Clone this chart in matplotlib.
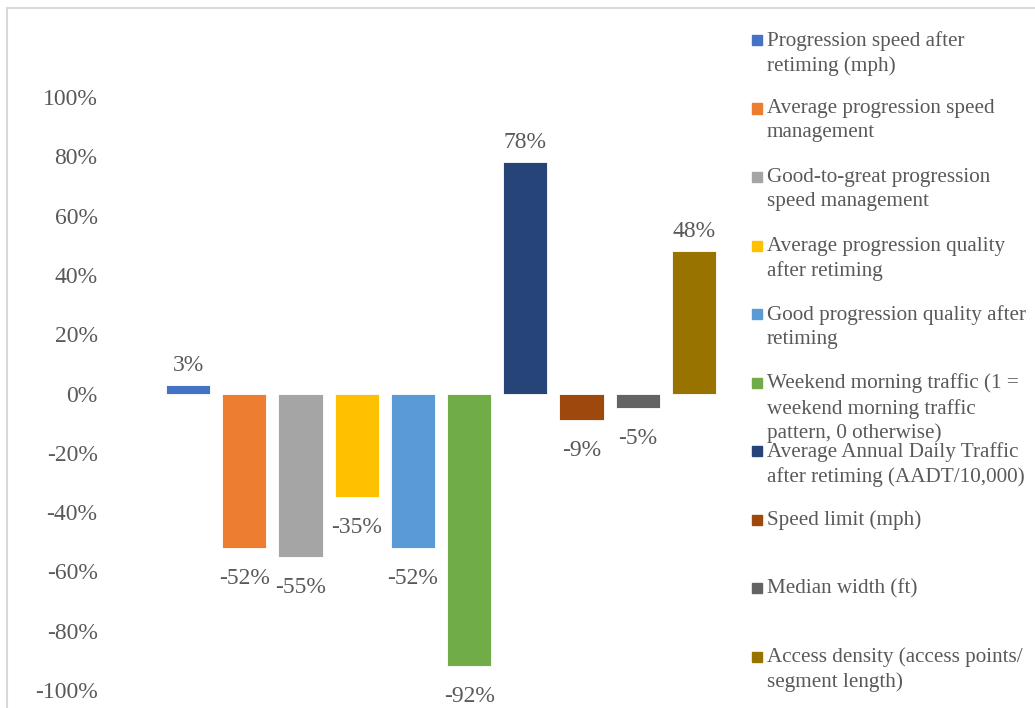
import matplotlib.pyplot as plt
from matplotlib.patches import Rectangle
from matplotlib.ticker import PercentFormatter

plt.rcParams['font.family'] = ['Liberation Serif', 'DejaVu Serif']
plt.rcParams['axes.unicode_minus'] = False

labels = [
    "Progression speed after\nretiming (mph)",
    "Average progression speed\nmanagement",
    "Good-to-great progression\nspeed management",
    "Average progression quality\nafter retiming",
    "Good progression quality after\nretiming",
    "Weekend morning traffic (1 =\nweekend morning traffic\npattern, 0 otherwise)",
    "Average Annual Daily Traffic\nafter retiming (AADT/10,000)",
    "Speed limit (mph)",
    "Median width (ft)",
    "Access density (access points/\nsegment length)",
]
values = [3, -52, -55, -35, -52, -92, 78, -9, -5, 48]
colors = ["#4472C4", "#ED7D31", "#A5A5A5", "#FFC000", "#5B9BD5",
          "#70AD47", "#264478", "#9E480E", "#636363", "#997300"]
yticks = [-100, -80, -60, -40, -20, 0, 20, 40, 60, 80, 100]

text_color = "#595959"
fsize = 17
legend_fsize = 15.2

W, H = 1035, 708
fig = plt.figure(figsize=(W / 100, H / 100), dpi=100)

# outer chart border
fig.patches.append(Rectangle((7 / W, -0.1), 1.2, (H - 8) / H + 0.1,
                             transform=fig.transFigure, fill=False,
                             edgecolor="#d9d9d9", linewidth=1.5))

ax = fig.add_axes([160 / W, 18 / H, 562 / W, 593 / H])
ax.set_xlim(-0.5, len(values) - 0.5)
ax.set_ylim(-100, 100)

xs = range(len(values))
bars = ax.bar(xs, values, width=0.79, color=colors,
              edgecolor="white", linewidth=0.6)

for x, v in zip(xs, values):
    off = 14 if v >= 0 else -22
    ax.annotate(f"{v}%", (x, v), xytext=(0, off), textcoords="offset points",
                ha="center", va="center", fontsize=fsize, color=text_color,
                annotation_clip=False)

ax.set_yticks(yticks)
ax.yaxis.set_major_formatter(PercentFormatter(decimals=0))
ax.tick_params(axis="y", length=0, pad=45, labelsize=fsize, labelcolor=text_color)
ax.set_xticks([])
for s in ax.spines.values():
    s.set_visible(False)

# legend drawn as a column of swatches and wrapped text
legend_top = 40
step = 68.5
for i, (lab, c) in enumerate(zip(labels, colors)):
    yc = legend_top + i * step
    fig.patches.append(Rectangle((752 / W, 1 - (yc + 5) / H), 10 / W, 10 / H,
                                 transform=fig.transFigure, color=c))
    fig.text(767 / W, 1 - (yc - 9) / H, lab, ha="left", va="top",
             fontsize=legend_fsize, color=text_color, linespacing=1.35)

fig.savefig("out.png", dpi=100)
